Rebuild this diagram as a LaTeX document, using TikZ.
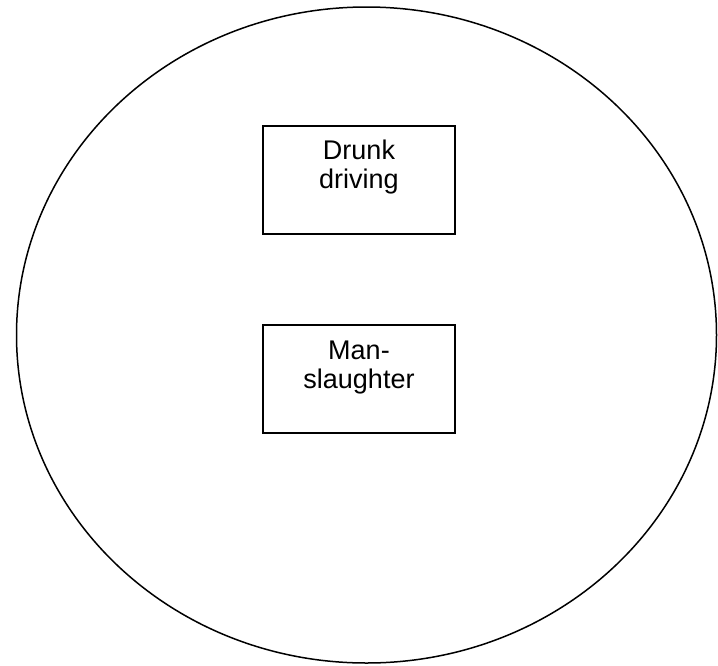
\documentclass[tikz,border=0pt]{standalone}
\usepackage{fontspec}
\setmainfont{Liberation Sans}
\usetikzlibrary{positioning}
\tikzset{
  crimebox/.style={rectangle, draw, line width=1.5pt,
    minimum width=192pt, minimum height=108pt, inner sep=0pt},
  crimetext/.style={align=center, inner sep=0pt,
    font=\fontsize{27}{29}\selectfont}
}
\begin{document}
\begin{tikzpicture}[x=1pt, y=-1pt]
  \useasboundingbox (0,0) rectangle (718,665);

  % Outer circle
  \draw[line width=1.5pt] (366.5,335) ellipse [x radius=350, y radius=328];

  % Drunk driving
  \node[crimebox] (drunk) at (359,180) {};
  \node[crimetext, below=14pt of drunk.north] (drunktxt) {Drunk\\driving};

  % Manslaughter
  \node[crimebox] (mans) at (359,379) {};
  \node[crimetext, below=16pt of mans.north] (manstxt) {Man-\\slaughter};
\end{tikzpicture}
\end{document}
